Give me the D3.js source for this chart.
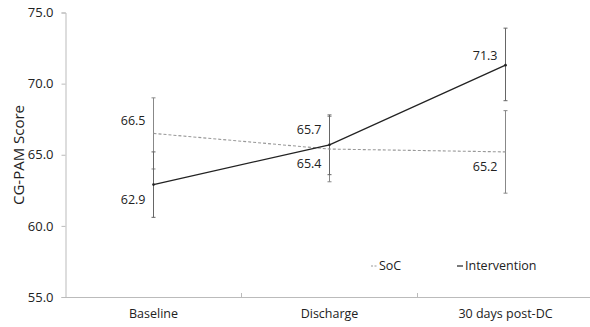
<!DOCTYPE html>
<html>
<head>
<meta charset="utf-8">
<script src="https://cdn.jsdelivr.net/npm/d3@7"></script>
<style>
  body { margin: 0; background: #fff; }
  text { font-family: "Open Sans", sans-serif; fill: #222; }
</style>
</head>
<body>
<div id="chart"></div>
<script>
// chart data
var categories = ['Baseline', 'Discharge', '30 days post-DC'];
var socValues = [66.5, 65.4, 65.2];
var socUpper = [69.0, 67.7, 68.1];
var socLower = [64.0, 63.1, 62.3];
var intValues = [62.9, 65.7, 71.3];
var intUpper = [65.2, 67.8, 73.9];
var intLower = [60.6, 63.6, 68.8];
var yTicks = [55, 60, 65, 70, 75];

var width = 590, height = 327;
var margin = {top: 12.5, right: 0, bottom: 30, left: 65.5};

var svg = d3.select('#chart').append('svg')
  .attr('width', width)
  .attr('height', height);

var x = d3.scaleBand().domain(categories).range([65.5, 593.5]);
var y = d3.scaleLinear().domain([55, 75]).range([297, 12.5]);
var cx = function(i) { return x(categories[i]) + x.bandwidth() / 2; };

// y axis
var yAxis = svg.append('g')
  .attr('transform', 'translate(' + margin.left + ',0)')
  .call(d3.axisLeft(y).tickValues(yTicks).tickSize(4).tickPadding(8).tickFormat(d3.format('.1f')));
yAxis.select('.domain').attr('stroke', '#bbb');
yAxis.selectAll('.tick line').attr('stroke', '#bbb');
yAxis.selectAll('.tick text').style('font-size', '13px').attr('fill', '#222');

// x axis, ticks pointing up at category boundaries
var xAxis = svg.append('g')
  .attr('transform', 'translate(0,' + y(55) + ')')
  .call(d3.axisBottom(x).tickSize(0).tickPadding(12));
xAxis.select('.domain').attr('stroke', '#bbb');
xAxis.selectAll('.tick text').style('font-size', '12.5px').attr('fill', '#222');
svg.selectAll('.bnd')
  .data(categories.slice(1))
  .enter().append('line')
    .attr('x1', function(d) { return x(d); })
    .attr('x2', function(d) { return x(d); })
    .attr('y1', y(55))
    .attr('y2', y(55) - 4)
    .attr('stroke', '#bbb');

// y axis title
svg.append('text')
  .attr('transform', 'translate(24,' + 155 + ') rotate(-90)')
  .attr('text-anchor', 'middle')
  .style('font-size', '15px')
  .text('CG-PAM Score');

// error bars
function errorBars(upper, lower, color) {
  var g = svg.append('g');
  upper.forEach(function(u, i) {
    var px = cx(i);
    g.append('line').attr('x1', px).attr('x2', px).attr('y1', y(u)).attr('y2', y(lower[i]))
      .attr('stroke', color).attr('stroke-width', 1);
    [u, lower[i]].forEach(function(v) {
      g.append('line').attr('x1', px - 2).attr('x2', px + 2).attr('y1', y(v)).attr('y2', y(v))
        .attr('stroke', color).attr('stroke-width', 1);
    });
  });
}
errorBars(socUpper, socLower, '#888');
errorBars(intUpper, intLower, '#666');

var line = d3.line()
  .x(function(d, i) { return cx(i); })
  .y(function(d) { return y(d); });

svg.append('path')
  .datum(socValues)
  .attr('d', line)
  .attr('fill', 'none')
  .attr('stroke', '#999')
  .attr('stroke-width', 1.1)
  .attr('stroke-dasharray', '3,2');

svg.append('path')
  .datum(intValues)
  .attr('d', line)
  .attr('fill', 'none')
  .attr('stroke', '#222')
  .attr('stroke-width', 1.3);

// point markers
svg.selectAll('.mk')
  .data(intValues)
  .enter().append('circle')
    .attr('cx', function(d, i) { return cx(i); })
    .attr('cy', function(d) { return y(d); })
    .attr('r', 1.3)
    .attr('fill', '#222');

// data labels
var socOffset = [-13, 15, 15];
var intOffset = [15, -15, -10];
svg.selectAll('.sl')
  .data(socValues)
  .enter().append('text')
    .attr('x', function(d, i) { return cx(i) - 8; })
    .attr('y', function(d, i) { return y(d) + socOffset[i]; })
    .attr('dy', '0.35em')
    .attr('text-anchor', 'end')
    .style('font-size', '12.5px')
    .text(function(d) { return d.toFixed(1); });
svg.selectAll('.il')
  .data(intValues)
  .enter().append('text')
    .attr('x', function(d, i) { return cx(i) - 8; })
    .attr('y', function(d, i) { return y(d) + intOffset[i]; })
    .attr('dy', '0.35em')
    .attr('text-anchor', 'end')
    .style('font-size', '12.5px')
    .text(function(d) { return d.toFixed(1); });

// legend
var legend = svg.append('g').attr('transform', 'translate(0,266)');
legend.append('line').attr('x1', 371).attr('x2', 377).attr('y1', 0).attr('y2', 0)
  .attr('stroke', '#999').attr('stroke-dasharray', '2,1.5');
legend.append('text').attr('x', 379).attr('y', 0).attr('dy', '0.35em')
  .style('font-size', '12.5px').text('SoC');
legend.append('line').attr('x1', 457).attr('x2', 463).attr('y1', 0).attr('y2', 0)
  .attr('stroke', '#222').attr('stroke-width', 1.2);
legend.append('text').attr('x', 465).attr('y', 0).attr('dy', '0.35em')
  .style('font-size', '12.5px').text('Intervention');
</script>
</body>
</html>
